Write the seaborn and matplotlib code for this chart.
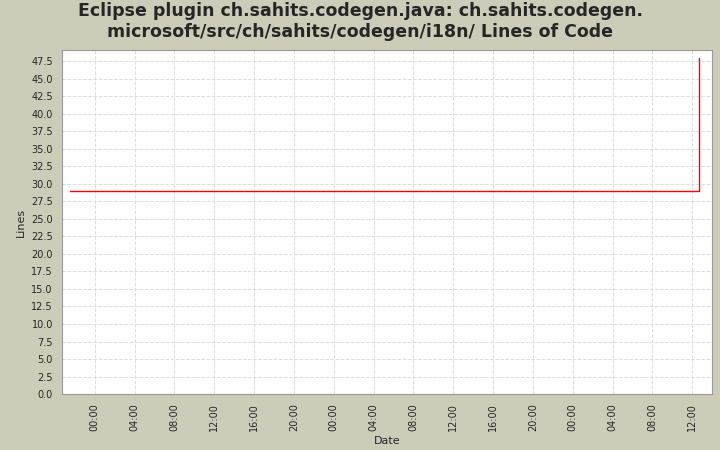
import matplotlib
matplotlib.use('Agg')
import pandas as pd
import seaborn as sns
import matplotlib.dates as mdates
from matplotlib import pyplot as plt

# data
dates = pd.to_datetime(["2010-01-04 21:30", "2010-01-07 12:42", "2010-01-07 12:42"])
lines = [29, 29, 48]

sns.set_style("whitegrid")
plt.rcParams['font.family'] = ['DejaVu Sans']

fig = plt.figure(figsize=(7.2, 4.5), dpi=100, facecolor='#CCCCB8')
ax = fig.add_axes([0.086, 0.1244, 0.903, 0.764])
df = pd.DataFrame({"Date": dates, "Lines": lines})
sns.lineplot(data=df, x="Date", y="Lines", color='red', lw=1, ax=ax,
             sort=False, estimator=None, errorbar=None)

ax.set_xlim(pd.Timestamp("2010-01-04 20:42"), pd.Timestamp("2010-01-07 14:00"))
ax.set_ylim(0, 49.1)
ax.set_yticks([i * 2.5 for i in range(20)])
ax.yaxis.set_major_formatter(matplotlib.ticker.FormatStrFormatter('%.1f'))
ax.xaxis.set_major_locator(mdates.HourLocator(byhour=range(0, 24, 4)))
ax.xaxis.set_major_formatter(mdates.DateFormatter('%H:%M'))
ax.tick_params(axis='x', labelrotation=90, labelsize=7, length=3)
ax.tick_params(axis='y', labelsize=7, length=3)
ax.grid(True, color='#DDDDDD', linestyle='--', lw=0.7)
for s in ax.spines.values():
    s.set_color('#999999')
ax.set_xlabel("Date", fontsize=8)
ax.set_ylabel("Lines", fontsize=8)
fig.suptitle("Eclipse plugin ch.sahits.codegen.java: ch.sahits.codegen.\nmicrosoft/src/ch/sahits/codegen/i18n/ Lines of Code",
             fontsize=12.5, fontweight='bold', y=0.995)
fig.savefig("out.png", dpi=100, facecolor=fig.get_facecolor())
